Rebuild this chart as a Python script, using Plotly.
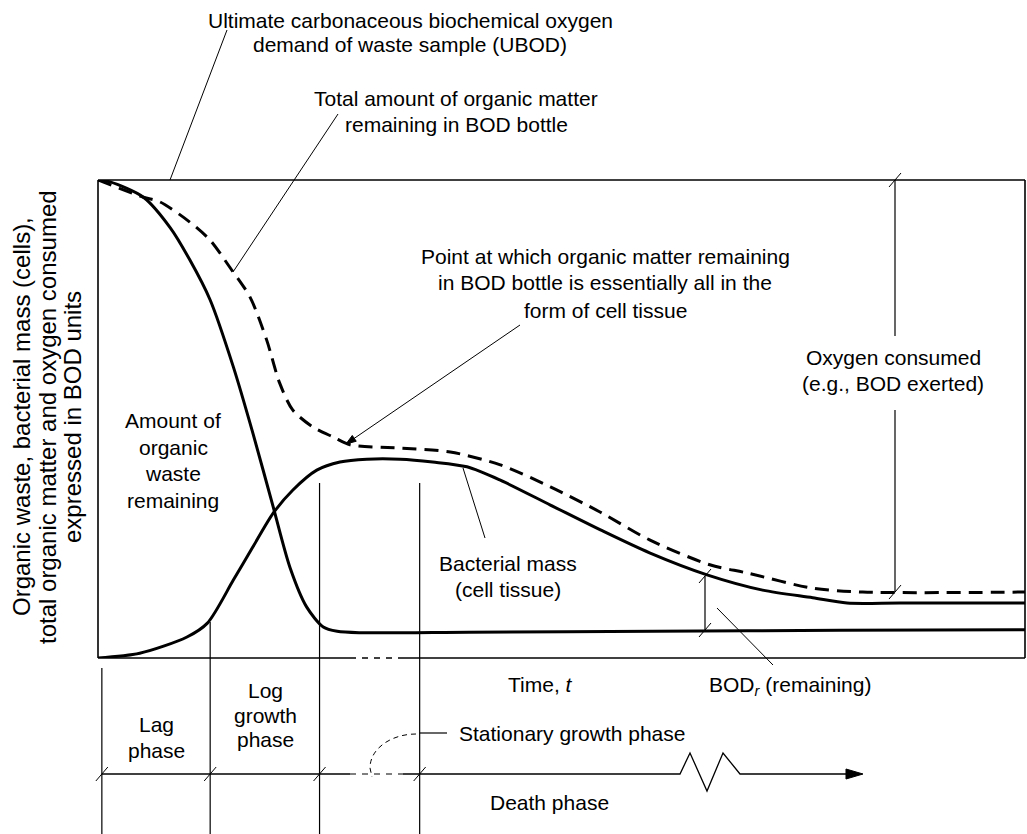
import math
import plotly.graph_objects as go

# ---------------- data (time: arbitrary units 0-10, values in BOD units, UBOD = 1) -------------
waste_t = [0, 0.13, 0.49, 0.78, 0.99, 1.21, 1.46, 1.67, 1.89, 2.07, 2.25, 2.43, 2.58, 2.83, 4.0, 6.0, 8.0, 10.0]
waste_v = [1.0, 0.996, 0.964, 0.900, 0.833, 0.749, 0.609, 0.471, 0.316, 0.190, 0.107, 0.065, 0.056, 0.053, 0.054, 0.056, 0.058, 0.059]

cells_t = [0, 0.45, 0.96, 1.18, 1.46, 1.67, 1.89, 2.10, 2.36, 2.61, 2.90, 3.26, 3.61, 3.98, 4.34,
           4.88, 5.42, 5.95, 6.57, 7.17, 7.71, 8.08, 8.65, 10.0]
cells_v = [0, 0.010, 0.044, 0.073, 0.163, 0.232, 0.303, 0.351, 0.393, 0.410, 0.416, 0.416, 0.410, 0.400, 0.372,
           0.320, 0.268, 0.220, 0.174, 0.142, 0.126, 0.115, 0.115, 0.115]

total_t = [0, 0.49, 0.67, 0.99, 1.21, 1.42, 1.64, 1.82, 1.96, 2.10, 2.32, 2.54, 2.72, 3.26, 3.80, 4.34,
           4.88, 5.42, 5.95, 6.60, 7.00, 7.71, 8.25, 10.0]
total_v = [1.0, 0.964, 0.954, 0.912, 0.874, 0.818, 0.755, 0.665, 0.575, 0.519, 0.483, 0.462, 0.446, 0.439, 0.431, 0.404,
           0.358, 0.305, 0.247, 0.195, 0.178, 0.146, 0.138, 0.138]

# phase boundaries (time units): lag | log growth | stationary | death
phase_bounds = [0.02, 1.21, 2.39, 3.47]
phase_labels = ["Lag<br>phase", "Log<br>growth<br>phase"]
y_title = ["Organic waste, bacterial mass (cells),",
           "total organic matter and oxygen consumed",
           "expressed in BOD units"]

# ---------------- geometry helpers ---------------------------------------------------------------
W, H = 1027, 834
L, R, T, B = 98, 1025, 180, 658   # plot box in pixels
FONT = "Liberation Sans, Arial, Helvetica, sans-serif"
FS = 21


def X(px):
    return (px - L) / (R - L)


def Y(py):
    return (B - py) / (B - T)


def t2px(t):
    return L + t / 10.0 * (R - L)


def v2py(v):
    return B - v * (B - T)


shapes = []
annotations = []


def seg(x0, y0, x1, y1, width=1.0, dash="solid"):
    shapes.append(dict(type="line", xref="paper", yref="paper",
                       x0=X(x0), y0=Y(y0), x1=X(x1), y1=Y(y1),
                       line=dict(color="black", width=width, dash=dash)))


def path(d, width=1.0, dash="solid", fill=None):
    s = dict(type="path", xref="paper", yref="paper", path=d,
             line=dict(color="black", width=width, dash=dash))
    if fill:
        s["fillcolor"] = fill
    shapes.append(s)


def pt(px, py):
    return f"{X(px):.5f},{Y(py):.5f}"


def slash(px, py, s=6):
    seg(px - s, py + s + 1, px + s, py - s - 1, width=1)


def arrow(x0, y0, x1, y1, head=10, half=3.5):
    seg(x0, y0, x1, y1, 1)
    dx, dy = x1 - x0, y1 - y0
    n = math.hypot(dx, dy)
    ux, uy = dx / n, dy / n
    bx, by = x1 - ux * head, y1 - uy * head
    px_, py_ = -uy, ux
    path("M " + pt(x1, y1) + " L " + pt(bx + px_ * half, by + py_ * half)
         + " L " + pt(bx - px_ * half, by - py_ * half) + " Z", width=1, fill="black")


def text(s, px, py, xanchor="center", size=FS, angle=0):
    annotations.append(dict(text=s, xref="paper", yref="paper", x=X(px), y=Y(py),
                            xanchor=xanchor, yanchor="middle", showarrow=False,
                            textangle=angle, font=dict(family=FONT, size=size, color="black")))


def lines(txts, px, ys, xanchor="center"):
    for s, py in zip(txts, ys):
        text(s, px, py, xanchor=xanchor)


# ---------------- figure ---------------------------------------------------------------------------
fig = go.Figure()
fig.add_trace(go.Scatter(x=total_t, y=total_v, mode="lines",
                         line=dict(color="black", width=3, dash="14px,8px", shape="spline", smoothing=0.8),
                         hoverinfo="skip", showlegend=False))
fig.add_trace(go.Scatter(x=waste_t, y=waste_v, mode="lines",
                         line=dict(color="black", width=3, shape="spline", smoothing=0.8),
                         hoverinfo="skip", showlegend=False))
fig.add_trace(go.Scatter(x=cells_t, y=cells_v, mode="lines",
                         line=dict(color="black", width=3, shape="spline", smoothing=0.8),
                         hoverinfo="skip", showlegend=False))

# plot box
seg(L, T, L, B, 1.6)
seg(L, T, R, T, 1.6)
seg(R, T, R, B, 1.6)
seg(L, B, 350, B, 1.6)
seg(350, B, 403, B, 1.4, dash="6px,6px")
seg(403, B, R, B, 1.6)

# phase boundary verticals
xb = [t2px(t) for t in phase_bounds]
seg(xb[0] + 2, 668, xb[0] + 2, H, 1.2)
seg(xb[1], 622, xb[1], H, 1.2)
seg(xb[2], 483, xb[2], H, 1.2)
seg(xb[3], 483, xb[3], H, 1.2)

# phase axis line with zig-zag and arrow
YA = 774
seg(xb[0] + 2, YA, 350, YA, 1.3)
seg(350, YA, 403, YA, 1.2, dash="6px,6px")
path("M " + pt(403, YA) + " L " + pt(680, YA) + " L " + pt(690, 753) + " L " + pt(707, 791)
     + " L " + pt(723, 753) + " L " + pt(740, YA) + " L " + pt(850, YA), width=1.3)
path("M " + pt(846, YA - 5) + " L " + pt(863, YA) + " L " + pt(846, YA + 5) + " Z", width=1, fill="black")
for x in xb:
    slash(x + (2 if x == xb[0] else 0), YA)

# stationary-phase bracket
path("M " + pt(416, 734) + " C " + pt(392, 734) + " " + pt(370, 748) + " " + pt(370, 768)
     + " L " + pt(372, 777), width=1, dash="5px,4px")
seg(xb[3], 733, 447, 733, 1.2)

# oxygen consumed dimension
xo = 895
seg(xo, T, xo, 336, 1.2)
seg(xo, 410, xo, v2py(total_v[-1]), 1.2)
slash(xo, T)
slash(xo, v2py(total_v[-1]))

# BOD remaining dimension
xr = 705
seg(xr, 576, xr, 630, 1.2)
slash(xr, 576)
slash(xr, 630)

# leader lines
seg(227, 30, 170, 180, 1)
seg(338, 114, 233, 272, 1)
seg(463, 468, 485, 538, 1)
seg(717, 608, 773, 665, 1)
arrow(520, 325, 346, 444)

# texts
lines(["Ultimate carbonaceous biochemical oxygen", "demand of waste sample (UBOD)"], 410, [20, 45])
lines(["Total amount of organic matter", "remaining in BOD bottle"], 456, [98, 125])
lines(["Point at which organic matter remaining", "in BOD bottle is essentially all in the",
       "form of cell tissue"], 605, [256, 282, 310])
lines(["Oxygen consumed", "(e.g., BOD exerted)"], 893, [357, 383])
lines(["Amount of", "organic", "waste", "remaining"], 173, [420, 447, 473, 500])
lines(["Bacterial mass", "(cell tissue)"], 508, [563, 589])
text("Time, <i>t</i>", 540, 684)
text("BOD<sub><i>r</i></sub> (remaining)", 707, 686, xanchor="left")
lines(phase_labels[0].split("<br>"), 156, [724, 750])
lines(phase_labels[1].split("<br>"), 265, [690, 715, 739])
text("Stationary growth phase", 457, 733, xanchor="left")
text("Death phase", 488, 802, xanchor="left")

# y-axis title (three rotated lines)
for s, px in zip(y_title, [21, 47, 72]):
    text(s, px, 417, angle=-90, size=24)

fig.update_layout(
    width=W, height=H, autosize=False,
    margin=dict(l=L, r=W - R, t=T, b=H - B, pad=0),
    paper_bgcolor="white", plot_bgcolor="white",
    xaxis=dict(range=[0, 10], visible=False, fixedrange=True),
    yaxis=dict(range=[0, 1], visible=False, fixedrange=True),
    shapes=shapes, annotations=annotations,
    showlegend=False,
)

fig.write_html("out.html", config={"displayModeBar": False},
               post_script="document.body.style.margin='0px';")
